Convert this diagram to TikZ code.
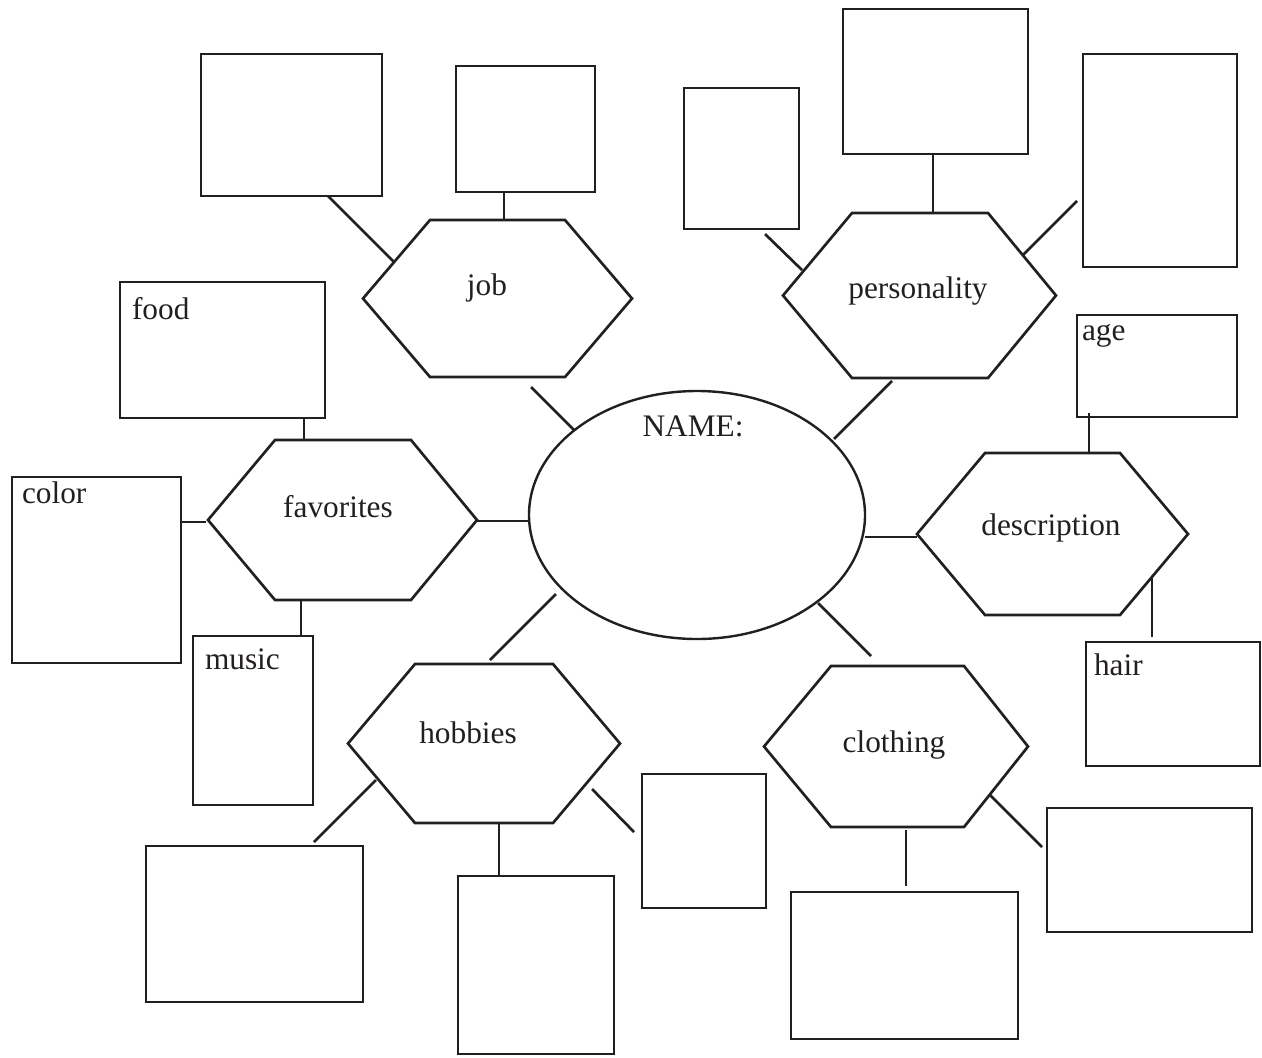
\documentclass[tikz,border=0pt]{standalone}
\usepackage{fontspec}
\setmainfont{Liberation Serif}
\usetikzlibrary{shapes.geometric}
\definecolor{ink}{RGB}{35,31,32}
\tikzset{
  boxst/.style={draw=ink, line width=2.2pt, inner sep=0pt, outer sep=0pt, rectangle},
  hexst/.style={draw=ink, line width=2pt, line join=miter},
  conn/.style={draw=ink, line width=2pt},
  ovalst/.style={draw=ink, line width=1.8pt, ellipse, inner sep=0pt, outer sep=0pt},
  lbl/.style={font=\fontsize{23.5}{28}\selectfont, text=ink, inner sep=0pt, outer sep=0pt},
}
% box: name, x1, y1, x2, y2
\newcommand\mybox[5]{\node[boxst, minimum width={(#4-#2)*0.75pt}, minimum height={(#5-#3)*0.75pt}] (#1) at ({(#2+#4)/2},{(#3+#5)/2}) {};}
% hexagon: name, left x, inner left x, inner right x, right x, top y, bottom y
\newcommand\myhex[7]{\draw[hexst] (#2,{(#6+#7)/2}) -- (#3,#6) -- (#4,#6) -- (#5,{(#6+#7)/2}) -- (#4,#7) -- (#3,#7) -- cycle;
  \coordinate (#1) at ({(#2+#5)/2},{(#6+#7)/2});}
% connector: name, x1, y1, x2, y2
\newcommand\myconn[5]{\coordinate (#1a) at (#2,#3); \coordinate (#1b) at (#4,#5); \draw[conn] (#1a) -- (#1b);}
\begin{document}
\begin{tikzpicture}[x=0.75pt,y=-0.75pt]
\useasboundingbox (0,0) rectangle (1262,1057);
% boxes
\mybox{btl}{201}{54}{382}{196}
\mybox{bjob}{456}{66}{595}{192}
\mybox{bpl}{684}{88}{799}{229}
\mybox{bpt}{843}{9}{1028}{154}
\mybox{bpr}{1083}{54}{1237}{267}
\mybox{bfood}{120}{282}{325}{418}
\mybox{bage}{1077}{315}{1237}{417}
\mybox{bcolor}{12}{477}{181}{663}
\mybox{bmusic}{193}{636}{313}{805}
\mybox{bhair}{1086}{642}{1260}{766}
\mybox{bhl}{146}{846}{363}{1002}
\mybox{bhb}{458}{876}{614}{1054}
\mybox{bhr}{642}{774}{766}{908}
\mybox{bcb}{791}{892}{1018}{1039}
\mybox{bcr}{1047}{808}{1252}{932}
% hexagons
\myhex{hjob}{363}{430}{565}{632}{220}{377}
\myhex{hpers}{783}{852}{988}{1056}{213}{378}
\myhex{hfav}{208}{275}{411}{477}{440}{600}
\myhex{hdesc}{917}{985}{1120}{1188}{453}{615}
\myhex{hhob}{348}{415}{553}{620}{664}{823}
\myhex{hcloth}{764}{831}{964}{1028}{666}{827}
% centre
\node[ovalst, minimum width={336*0.75pt}, minimum height={248*0.75pt}] (oval) at (697,515) {};
% connectors
\myconn{c1}{328}{196}{394}{262}
\myconn{c2}{504}{192}{504}{220}
\myconn{c3}{531}{387}{574}{430}
\myconn{c4}{765}{234}{802}{270}
\myconn{c5}{933}{154}{933}{213}
\myconn{c6}{1077}{201}{1023}{255}
\myconn{c7}{892}{381}{834}{439}
\myconn{c8}{304}{418}{304}{440}
\myconn{c9}{181}{522}{206}{522}
\myconn{c10}{477}{521}{529}{521}
\myconn{c11}{301}{600}{301}{636}
\myconn{c12}{1089}{413}{1089}{453}
\myconn{c13}{865}{537}{917}{537}
\myconn{c14}{1152}{577}{1152}{637}
\myconn{c15}{556}{594}{490}{660}
\myconn{c16}{818}{603}{871}{656}
\myconn{c17}{376}{780}{314}{842}
\myconn{c18}{499}{823}{499}{876}
\myconn{c19}{592}{789}{634}{832}
\myconn{c20}{906}{830}{906}{886}
\myconn{c21}{990}{795}{1042}{847}
% labels
\node[lbl, anchor=base] (tname) at (693,436) {NAME:};
\node[lbl, anchor=base] (tjob) at (487,295) {job};
\node[lbl, anchor=base] (tpers) at (918,298) {personality};
\node[lbl, anchor=base] (tfav) at (338,517) {favorites};
\node[lbl, anchor=base] (tdesc) at (1051,535) {description};
\node[lbl, anchor=base] (thob) at (468,743) {hobbies};
\node[lbl, anchor=base] (tcloth) at (894,752) {clothing};
\node[lbl, anchor=base west] (tfood) at (132,319) {food};
\node[lbl, anchor=base west] (tcolor) at (22,503) {color};
\node[lbl, anchor=base west] (tmusic) at (205,669) {music};
\node[lbl, anchor=base west] (tage) at (1082,340) {age};
\node[lbl, anchor=base west] (thair) at (1094,675) {hair};
\end{tikzpicture}
\end{document}
